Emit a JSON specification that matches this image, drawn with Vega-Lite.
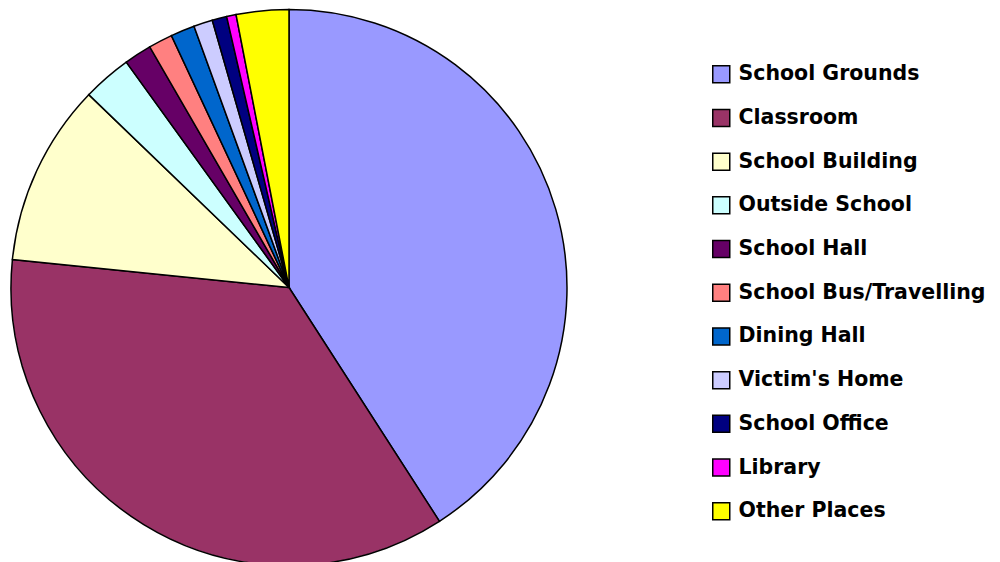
{
  "$schema": "https://vega.github.io/schema/vega-lite/v6.json",
  "width": 578,
  "height": 575,
  "padding": 0,
  "autosize": {"type": "pad"},
  "background": "white",
  "data": {
    "values": [
      {"place": "School Grounds", "pct": 40.9, "order": 1},
      {"place": "Classroom", "pct": 35.7, "order": 2},
      {"place": "School Building", "pct": 10.6, "order": 3},
      {"place": "Outside School", "pct": 2.85, "order": 4},
      {"place": "School Hall", "pct": 1.6, "order": 5},
      {"place": "School Bus/Travelling", "pct": 1.4, "order": 6},
      {"place": "Dining Hall", "pct": 1.4, "order": 7},
      {"place": "Victim's Home", "pct": 1.1, "order": 8},
      {"place": "School Office", "pct": 0.85, "order": 9},
      {"place": "Library", "pct": 0.55, "order": 10},
      {"place": "Other Places", "pct": 3.05, "order": 11}
    ]
  },
  "mark": {"type": "arc", "outerRadius": 278, "stroke": "black", "strokeWidth": 1.5},
  "encoding": {
    "theta": {"field": "pct", "type": "quantitative", "stack": true},
    "order": {"field": "order", "type": "quantitative"},
    "color": {
      "field": "place",
      "type": "nominal",
      "sort": null,
      "scale": {
        "domain": ["School Grounds", "Classroom", "School Building", "Outside School", "School Hall", "School Bus/Travelling", "Dining Hall", "Victim's Home", "School Office", "Library", "Other Places"],
        "range": ["#9999FF", "#993366", "#FFFFCC", "#CCFFFF", "#660066", "#FF8080", "#0066CC", "#CCCCFF", "#000080", "#FF00FF", "#FFFF00"]
      },
      "legend": {
        "orient": "none",
        "legendX": 711,
        "legendY": 64,
        "title": null,
        "symbolType": "square",
        "symbolSize": 289,
        "symbolStrokeColor": "black",
        "symbolStrokeWidth": 1.5,
        "labelFont": "DejaVu Sans",
        "labelFontWeight": "bold",
        "labelFontSize": 20.5,
        "labelColor": "black",
        "labelOffset": 7,
        "labelLimit": 400,
        "rowPadding": 19.7
      }
    }
  }
}
